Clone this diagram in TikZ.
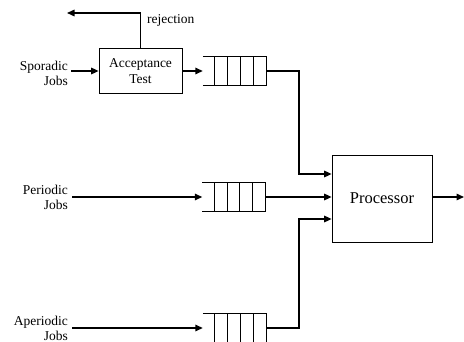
\documentclass[tikz,border=0pt]{standalone}
\usepackage{fontspec}
\setmainfont{Liberation Serif}
\usetikzlibrary{arrows.meta,calc}
\begin{document}
\begin{tikzpicture}[x=1pt,y=-1pt,
  conn/.style={line width=1.5pt,-{Triangle[length=7.5pt,width=6.5pt]}},
  boxn/.style={draw,line width=0.7pt,inner sep=0pt},
  lbl/.style={font=\fontsize{13.5}{15}\selectfont,align=right,inner sep=0pt},
  qbox/.style={minimum width=63pt,minimum height=29pt,inner sep=0pt}]
\useasboundingbox (0,0) rectangle (464,342);
% boxes
\node[boxn,minimum width=83pt,minimum height=45pt,font=\fontsize{13.5}{16}\selectfont,align=center] (acc) at (140.5,71) {Acceptance\\Test};
\node[boxn,minimum width=100pt,minimum height=87pt,font=\fontsize{16.5}{18}\selectfont] (proc) at (382,198.5) {Processor};
% queues
\node[qbox] (q1) at (234.5,71) {};
\node[qbox] (q2) at (234,197) {};
\node[qbox] (q3) at (234.5,328) {};
\foreach \q in {q1,q2,q3}{
  \draw[line width=0.7pt] (\q.north west) -- (\q.north east) -- (\q.south east);
  \draw[line width=0.7pt] (\q.south west) -- (\q.south east);
  \foreach \f in {0.19,0.39,0.59,0.79}{
    \draw[line width=0.7pt] ($(\q.north west)!\f!(\q.north east)$) -- ($(\q.south west)!\f!(\q.south east)$);
  }
}
% labels
\node[lbl,anchor=east] (spor) at (68,73) {Sporadic\\Jobs};
\node[lbl,anchor=east] (per) at (68,197) {Periodic\\Jobs};
\node[lbl,anchor=east] (aper) at (68,328) {Aperiodic\\Jobs};
\node[font=\fontsize{13.5}{15}\selectfont,anchor=west,inner sep=0pt] (rej) at (147,20) {rejection};
% coordinates
\coordinate (rejend) at (67,13);
\coordinate (out) at (464,197);
\coordinate (j1) at (299,71);
\coordinate (j3) at (299,328);
% connectors
\draw[conn] (spor.east |- acc.west) ++(3,0) -- (acc.west);
\draw[conn] (acc.north) -- (acc.north |- rejend) -- (rejend);
\draw[conn] (acc.east) -- (q1.west);
\draw[conn] (per.east |- q2.west) ++(4,0) -- (q2.west);
\draw[conn] (aper.east |- q3.west) ++(4,0) -- (q3.west);
\draw[conn] (q1.east) -- (j1) -- (j1 |- 0,174) -- (proc.west |- 0,174);
\draw[conn] (q2.east) -- (proc.west |- q2.east);
\draw[conn] (q3.east) -- (j3) -- (j3 |- 0,219) -- (proc.west |- 0,219);
\draw[conn] (proc.east |- out) -- (out);
\end{tikzpicture}
\end{document}
